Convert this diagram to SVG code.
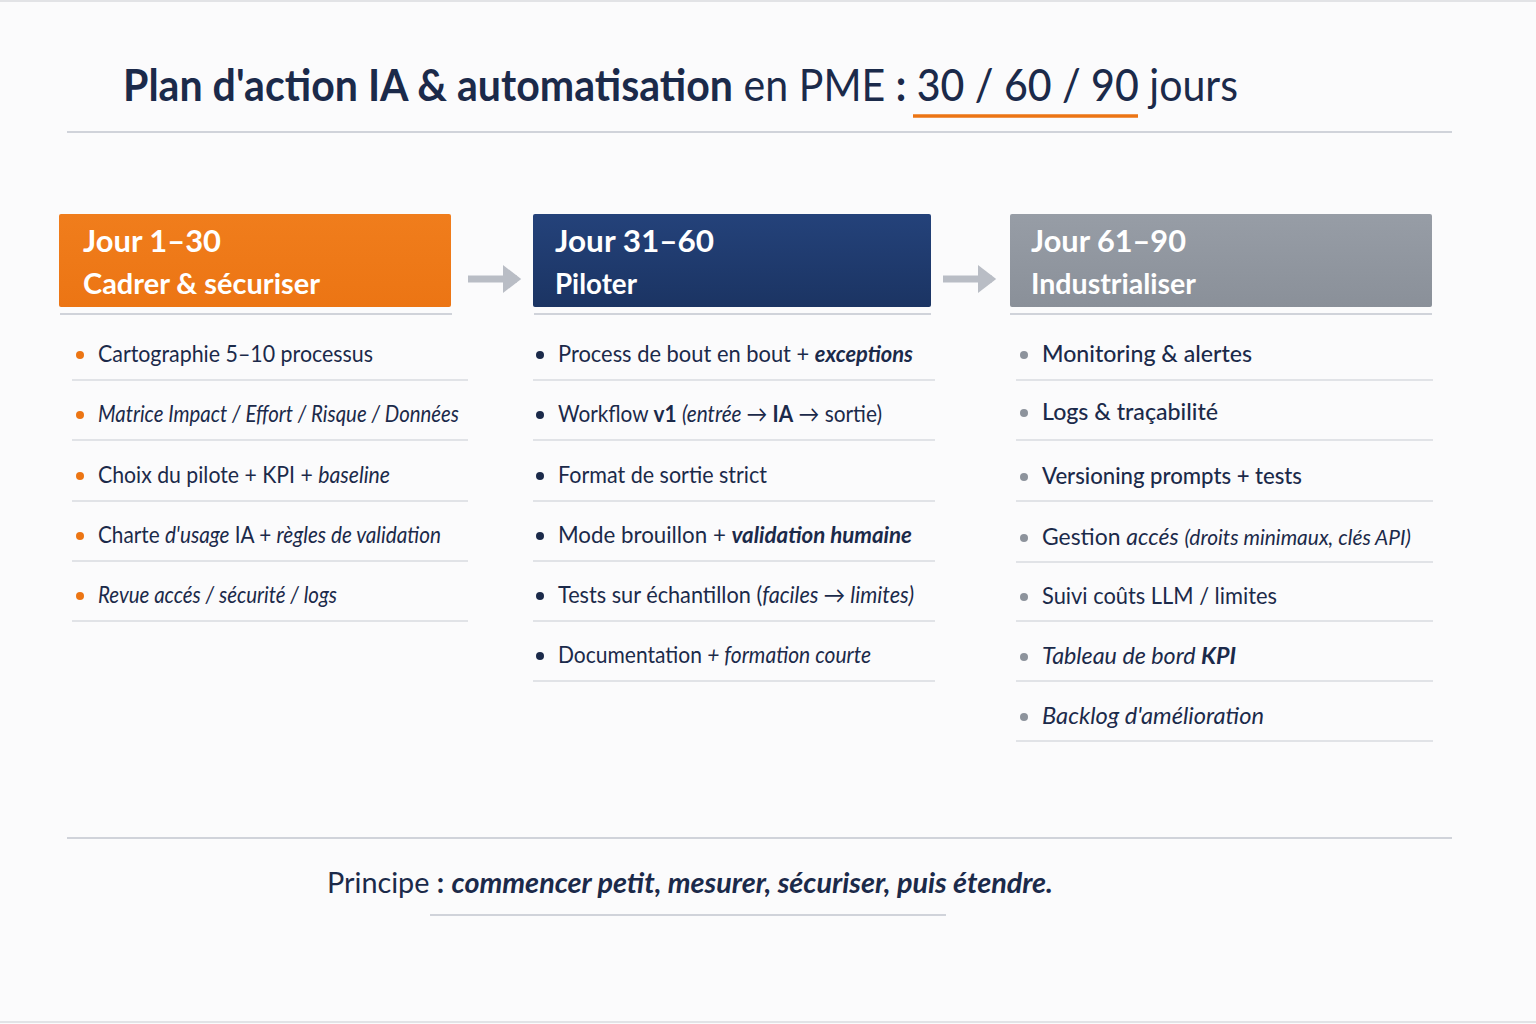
<svg xmlns="http://www.w3.org/2000/svg" width="1536" height="1024" viewBox="0 0 1536 1024">
<defs>
<style>
text{font-family:Lato,"Open Sans","Liberation Sans",sans-serif;fill:#1b2a4a}
.hd{fill:#fff;font-weight:700}
.it{font-size:23px}
.i{font-style:italic}
.b{font-weight:700}
.sep{stroke:#d9dbe0;stroke-width:1.5}
.hl{stroke:#d0d3da;stroke-width:2}
.conn{stroke:#b9bdc5;stroke-width:7;fill:none}
</style>
<linearGradient id="gNavy" x1="0" y1="0" x2="0" y2="1"><stop offset="0" stop-color="#24427a"/><stop offset="1" stop-color="#1b3463"/></linearGradient>
<linearGradient id="gOr" x1="0" y1="0" x2="0" y2="1"><stop offset="0" stop-color="#f07d1c"/><stop offset="1" stop-color="#ec7514"/></linearGradient>
<linearGradient id="gGr" x1="0" y1="0" x2="0" y2="1"><stop offset="0" stop-color="#979da6"/><stop offset="1" stop-color="#8a9099"/></linearGradient>
<marker id="ah" markerWidth="4" markerHeight="4" refX="2" refY="2" orient="auto" markerUnits="strokeWidth"><path d="M0,0 L2.6,2 L0,4 Z" fill="#b9bdc5"/></marker>
</defs>
<rect width="1536" height="1024" fill="#fbfbfc"/>
<line x1="0" y1="1" x2="1536" y2="1" stroke="#e2e3e6" stroke-width="2"/>
<line x1="0" y1="1022" x2="1536" y2="1022" stroke="#e2e3e6" stroke-width="2"/>

<g id="title">
<text x="123" y="101" font-size="44" textLength="1115" lengthAdjust="spacingAndGlyphs"><tspan class="b">Plan d'action IA &amp; automatisation</tspan><tspan> en PME </tspan><tspan class="b">:</tspan><tspan font-weight="500"> 30 / 60 / 90</tspan><tspan> jours</tspan></text>
<line x1="913" y1="116" x2="1138" y2="116" stroke="#ec7514" stroke-width="3.5"/>
<line x1="67" y1="132" x2="1452" y2="132" class="hl"/>
</g>

<g id="connectors">
<line x1="468" y1="279" x2="517" y2="279" class="conn" marker-end="url(#ah)"/>
<line x1="943" y1="279" x2="992" y2="279" class="conn" marker-end="url(#ah)"/>
</g>

<g id="phase1">
<rect x="59" y="214" width="392" height="93" rx="2" fill="url(#gOr)"/>
<text class="hd" x="83" y="252" font-size="31" textLength="138" lengthAdjust="spacingAndGlyphs">Jour 1–30</text>
<text class="hd" x="83" y="294" font-size="28" textLength="237" lengthAdjust="spacingAndGlyphs">Cadrer &amp; sécuriser</text>
<line x1="60" y1="314" x2="452" y2="314" class="hl"/>
<g fill="#ec7514"><circle cx="80" cy="355" r="4"/><circle cx="80" cy="415" r="4"/><circle cx="80" cy="476" r="4"/><circle cx="80" cy="536" r="4"/><circle cx="80" cy="596" r="4"/></g>
<text class="it" x="98" y="362" textLength="275" lengthAdjust="spacingAndGlyphs">Cartographie 5–10 processus</text>
<text class="it i" x="98" y="422" textLength="361" lengthAdjust="spacingAndGlyphs">Matrice Impact / Effort / Risque / Données</text>
<text class="it" x="98" y="483" textLength="292" lengthAdjust="spacingAndGlyphs">Choix du pilote + KPI + <tspan class="i">baseline</tspan></text>
<text class="it" x="98" y="543" textLength="343" lengthAdjust="spacingAndGlyphs">Charte <tspan class="i">d'usage</tspan> IA + <tspan class="i">règles de validation</tspan></text>
<text class="it i" x="98" y="603" textLength="239" lengthAdjust="spacingAndGlyphs">Revue accés / sécurité / logs</text>
<g class="sep"><line x1="72" y1="380" x2="468" y2="380"/><line x1="72" y1="440" x2="468" y2="440"/><line x1="72" y1="501" x2="468" y2="501"/><line x1="72" y1="561" x2="468" y2="561"/><line x1="72" y1="621" x2="468" y2="621"/></g>
</g>

<g id="phase2">
<rect x="533" y="214" width="398" height="93" rx="2" fill="url(#gNavy)"/>
<text class="hd" x="555" y="252" font-size="31" textLength="159" lengthAdjust="spacingAndGlyphs">Jour 31–60</text>
<text class="hd" x="555" y="294" font-size="28" textLength="82" lengthAdjust="spacingAndGlyphs">Piloter</text>
<line x1="534" y1="314" x2="931" y2="314" class="hl"/>
<g fill="#1b2a4a"><circle cx="540" cy="355" r="4"/><circle cx="540" cy="415" r="4"/><circle cx="540" cy="476" r="4"/><circle cx="540" cy="536" r="4"/><circle cx="540" cy="596" r="4"/><circle cx="540" cy="656" r="4"/></g>
<text class="it" x="558" y="362" textLength="355" lengthAdjust="spacingAndGlyphs">Process de bout en bout + <tspan class="b i">exceptions</tspan></text>
<text class="it" x="558" y="422" textLength="324" lengthAdjust="spacingAndGlyphs">Workflow <tspan class="b">v1</tspan> <tspan class="i">(entrée →</tspan> <tspan class="b">IA</tspan> → sortie)</text>
<text class="it" x="558" y="483" textLength="209" lengthAdjust="spacingAndGlyphs">Format de sortie strict</text>
<text class="it" x="558" y="543" textLength="354" lengthAdjust="spacingAndGlyphs">Mode brouillon + <tspan class="b i">validation humaine</tspan></text>
<text class="it" x="558" y="603" textLength="356" lengthAdjust="spacingAndGlyphs">Tests sur échantillon (<tspan class="i">faciles → limites)</tspan></text>
<text class="it" x="558" y="663" textLength="313" lengthAdjust="spacingAndGlyphs">Documentation <tspan class="i">+ formation courte</tspan></text>
<g class="sep"><line x1="533" y1="380" x2="935" y2="380"/><line x1="533" y1="440" x2="935" y2="440"/><line x1="533" y1="501" x2="935" y2="501"/><line x1="533" y1="561" x2="935" y2="561"/><line x1="533" y1="621" x2="935" y2="621"/><line x1="533" y1="681" x2="935" y2="681"/></g>
</g>

<g id="phase3">
<rect x="1010" y="214" width="422" height="93" rx="2" fill="url(#gGr)"/>
<text class="hd" x="1031" y="252" font-size="31" textLength="155" lengthAdjust="spacingAndGlyphs">Jour 61–90</text>
<text class="hd" x="1031" y="294" font-size="28" textLength="165" lengthAdjust="spacingAndGlyphs">Industrialiser</text>
<line x1="1010" y1="314" x2="1432" y2="314" class="hl"/>
<g fill="#8d939c"><circle cx="1024" cy="355" r="4"/><circle cx="1024" cy="413" r="4"/><circle cx="1024" cy="477" r="4"/><circle cx="1024" cy="538" r="4"/><circle cx="1024" cy="597" r="4"/><circle cx="1024" cy="657" r="4"/><circle cx="1024" cy="717" r="4"/></g>
<text class="it" x="1042" y="362" font-weight="500" textLength="210" lengthAdjust="spacingAndGlyphs">Monitoring &amp; alertes</text>
<text class="it" x="1042" y="420" font-weight="500" textLength="176" lengthAdjust="spacingAndGlyphs">Logs &amp; traçabilité</text>
<text class="it" x="1042" y="484" font-weight="500" textLength="260" lengthAdjust="spacingAndGlyphs">Versioning prompts + tests</text>
<text class="it" x="1042" y="545" textLength="369" lengthAdjust="spacingAndGlyphs">Gestion <tspan class="i">accés</tspan> <tspan class="i" font-size="21">(droits minimaux, clés API)</tspan></text>
<text class="it" x="1042" y="604" textLength="235" lengthAdjust="spacingAndGlyphs">Suivi coûts LLM / limites</text>
<text class="it i" x="1042" y="664" textLength="194" lengthAdjust="spacingAndGlyphs">Tableau de bord <tspan class="b">KPI</tspan></text>
<text class="it i" x="1042" y="724" textLength="222" lengthAdjust="spacingAndGlyphs">Backlog d'amélioration</text>
<g class="sep"><line x1="1016" y1="380" x2="1433" y2="380"/><line x1="1016" y1="440" x2="1433" y2="440"/><line x1="1016" y1="501" x2="1433" y2="501"/><line x1="1016" y1="562" x2="1433" y2="562"/><line x1="1016" y1="621" x2="1433" y2="621"/><line x1="1016" y1="681" x2="1433" y2="681"/><line x1="1016" y1="741" x2="1433" y2="741"/></g>
</g>

<g id="principle">
<line x1="67" y1="838" x2="1452" y2="838" class="hl"/>
<text x="327" y="893" font-size="28" textLength="726" lengthAdjust="spacingAndGlyphs">Principe <tspan class="b">:</tspan> <tspan class="b i">commencer petit, mesurer, sécuriser, puis étendre.</tspan></text>
<line x1="430" y1="915" x2="946" y2="915" class="hl"/>
</g>
</svg>
